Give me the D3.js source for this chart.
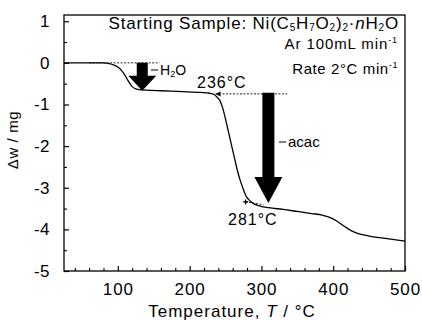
<!DOCTYPE html>
<html><head><meta charset="utf-8">
<script src="https://cdn.jsdelivr.net/npm/d3@7"></script>
<style>
body{margin:0;background:#fff}
text{font-family:"Liberation Sans",Arial,Helvetica,sans-serif;fill:#000}
</style>
</head><body>
<svg id="chart" width="422" height="321"></svg>
<script>
// ---- data ----
const temperature = [25,50,70,80,88,94,100,105,110,115,120,125,130,140,160,190,215,228,234,238,242,246,250,254,258,262,266,270,274,278,282,288,296,310,330,350,370,385,395,405,415,425,435,450,470,500];
const massChange  = [0,0,0,0,-0.02,-0.05,-0.1,-0.18,-0.3,-0.45,-0.57,-0.625,-0.645,-0.655,-0.67,-0.69,-0.71,-0.73,-0.76,-0.82,-0.9,-1.08,-1.35,-1.65,-1.95,-2.25,-2.55,-2.8,-3.0,-3.18,-3.28,-3.37,-3.43,-3.48,-3.52,-3.57,-3.62,-3.66,-3.71,-3.8,-3.92,-4.03,-4.1,-4.16,-4.21,-4.28];
const xTickValues = [100,200,300,400,500];
const xTickLabels = ["100","200","300","400","500"];
const xMinorTicks = [40,60,80,120,140,160,180,220,240,260,280,320,340,360,380,420,440,460,480];
const yTickValues = [1,0,-1,-2,-3,-4,-5];
const yTickLabels = ["1","0","-1","-2","-3","-4","-5"];
const yMinorTicks = [0.5,-0.5,-1.5,-2.5,-3.5,-4.5];
// annotation anchors (data coordinates)
const stepArrowX   = [134, 309.7];      // arrow centre temperatures
const stepArrowTop = [0, -0.72];        // start of each arrow (mass)
const stepArrowTip = [-0.67, -3.365];   // tip of each arrow (mass)
const baselineH2O  = {t0: 60, t1: 158, w: 0};
const onset236     = {t0: 236, t1: 336, w: -0.745};
const onset281     = {t0: 278, t1: 303, w0: -3.34, w1: -3.41};

// ---- layout ----
const svg = d3.select("#chart");
const x = d3.scaleLinear().domain([25, 500]).range([64, 405]);
const y = d3.scaleLinear().domain([-5, 1.15]).range([271, 15]);

// frame
svg.append("rect").attr("x", 64).attr("y", 15).attr("width", 341).attr("height", 256)
  .attr("fill", "none").attr("stroke", "#000").attr("stroke-width", 1.3);

// axes with inward ticks
const xAxis = d3.axisBottom(x).tickValues(xTickValues).tickSize(-5)
  .tickFormat((d,i) => xTickLabels[i]).tickPadding(12);
const gx = svg.append("g").attr("transform", "translate(0,271)").call(xAxis);
gx.select(".domain").remove();
gx.selectAll("line").attr("stroke-width", 1.2);
gx.selectAll("text").style("font-size", "17px").style("letter-spacing", "0.9px").attr("dy", "0.71em");

const gxm = svg.append("g").attr("transform", "translate(0,271)")
  .call(d3.axisBottom(x).tickValues(xMinorTicks).tickSize(-3).tickFormat(""));
gxm.select(".domain").remove();
gxm.selectAll("line").attr("stroke-width", 1.1);

const yAxis = d3.axisLeft(y).tickValues(yTickValues).tickSize(-5)
  .tickFormat((d,i) => yTickLabels[i]).tickPadding(14);
const gy = svg.append("g").attr("transform", "translate(64,0)").call(yAxis);
gy.select(".domain").remove();
gy.selectAll("line").attr("stroke-width", 1.2);
gy.selectAll("text").style("font-size", "17px").style("letter-spacing", "0.5px");

const gym = svg.append("g").attr("transform", "translate(64,0)")
  .call(d3.axisLeft(y).tickValues(yMinorTicks).tickSize(-3).tickFormat(""));
gym.select(".domain").remove();
gym.selectAll("line").attr("stroke-width", 1.1);

// axis titles
const xt = svg.append("text").attr("x", 232).attr("y", 317).attr("text-anchor", "middle")
  .style("font-size", "17px").style("letter-spacing", "1px");
xt.append("tspan").text("Temperature, ");
xt.append("tspan").attr("font-style", "italic").text("T");
xt.append("tspan").text(" / °C");

svg.append("text").attr("transform", "translate(18,140) rotate(-90)").attr("text-anchor", "middle")
  .style("font-size", "15px").style("letter-spacing", "0.6px").text("Δw / mg");

// dashed guide lines
const dash = svg.append("g").attr("stroke", "#222").attr("stroke-width", 1).attr("stroke-dasharray", "2,1.5").attr("fill", "none");
dash.append("line").attr("x1", x(baselineH2O.t0)).attr("x2", x(baselineH2O.t1)).attr("y1", y(baselineH2O.w)).attr("y2", y(baselineH2O.w));
dash.append("line").attr("x1", x(onset236.t0)).attr("x2", x(onset236.t1)).attr("y1", y(onset236.w)).attr("y2", y(onset236.w));
dash.append("line").attr("x1", x(onset281.t0)).attr("x2", x(onset281.t1)).attr("y1", y(onset281.w0)).attr("y2", y(onset281.w1));

// TG curve
const line = d3.line().x((d,i) => x(temperature[i])).y(d => y(d)).curve(d3.curveMonotoneX);
svg.append("path").datum(massChange).attr("d", line)
  .attr("fill", "none").attr("stroke", "#000").attr("stroke-width", 1.3);

// onset markers
svg.append("path")
  .attr("d", `M${x(onset236.t0)},${y(onset236.w)} l5,-2.5 l0,5 z`).attr("fill", "#000");
const mx = x(onset281.t0), my = y(onset281.w0);
svg.append("path").attr("d", `M${mx-2.5},${my} h5 M${mx},${my-2.5} v5`).attr("stroke", "#000").attr("stroke-width", 1.2);

// step arrows
const shaftHalf = [5.5, 6];
const headHalf = [14, 14];
const headLen = [15, 26];
stepArrowX.forEach((t, i) => {
  const cx = x(t), top = y(stepArrowTop[i]), tip = y(stepArrowTip[i]);
  const hb = tip - headLen[i];
  const p = `M${cx-shaftHalf[i]},${top} H${cx+shaftHalf[i]} V${hb} H${cx+headHalf[i]} L${cx},${tip} L${cx-headHalf[i]},${hb} H${cx-shaftHalf[i]} Z`;
  svg.append("path").attr("d", p).attr("fill", "#000");
});

// labels
function leaderLabel(px, py, size) {
  svg.append("line").attr("x1", px).attr("x2", px + 7).attr("y1", py).attr("y2", py).attr("stroke", "#000").attr("stroke-width", 1);
  return svg.append("text").attr("x", px + 9).attr("y", py + 5).style("font-size", size + "px");
}
const h2o = leaderLabel(151, 70, 14);
h2o.append("tspan").text("H");
h2o.append("tspan").attr("font-size", "9px").attr("dy", 2).text("2");
h2o.append("tspan").attr("dy", -2).text("O");

const acac = leaderLabel(279, 142, 15);
acac.text("acac");

svg.append("text").attr("x", 197).attr("y", 88).style("font-size", "16px").style("letter-spacing", "1px").text("236°C");
svg.append("text").attr("x", 228).attr("y", 225).style("font-size", "16px").style("letter-spacing", "1px").text("281°C");

// header text
const title = svg.append("text").attr("x", 399).attr("y", 29).attr("text-anchor", "end")
  .style("font-size", "17px").style("letter-spacing", "0.8px");
const parts = [["Starting Sample: Ni(C"],["5","sub"],["H"],["7","sub"],["O"],["2","sub"],[")"],["2","sub"],["·"],["n","it"],["H"],["2","sub"],["O"]];
let shifted = false;
parts.forEach(([s, k]) => {
  const ts = title.append("tspan").text(s);
  if (k === "sub") { ts.attr("font-size", "10px").attr("dy", shifted ? 0 : 2); shifted = true; }
  else { if (shifted) ts.attr("dy", -2); shifted = false; if (k === "it") ts.attr("font-style", "italic"); }
});

function rateLine(yy, main, ls) {
  const t = svg.append("text").attr("x", 398).attr("y", yy).attr("text-anchor", "end")
    .style("font-size", "15px").style("letter-spacing", ls + "px");
  t.append("tspan").text(main);
  t.append("tspan").attr("font-size", "9px").attr("dy", -6).text("-1");
}
rateLine(49, "Ar 100mL min", 0.9);
rateLine(74, "Rate 2°C min", 0.6);
</script>
</body></html>
